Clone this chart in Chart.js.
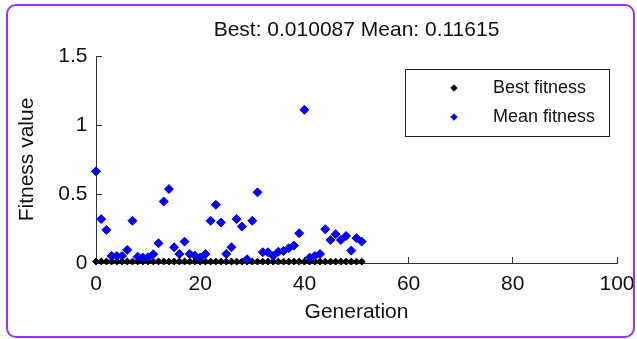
<!DOCTYPE html>
<html>
<head>
<meta charset="utf-8">
<script src="https://cdn.jsdelivr.net/npm/chart.js@4.4.0/dist/chart.umd.min.js"></script>
<style>
  html, body { margin: 0; padding: 0; background: #fff; }
  #wrap { position: relative; width: 637px; height: 339px; }
  #frame {
    position: absolute; left: 6px; top: 4px; width: 625px; height: 330px;
    border: 2px solid #9933ff; border-radius: 10px; pointer-events: none;
  }
  canvas { position: absolute; left: 0; top: 0; }
</style>
</head>
<body>
<div id="wrap">
  <canvas id="gaChart" width="637" height="339"></canvas>
  <div id="frame"></div>
</div>
<script>
// generation numbers
const generations = [0, 1, 2, 3, 4, 5, 6, 7, 8, 9, 10, 11, 12, 13, 14, 15, 16, 17, 18, 19, 20,
  21, 22, 23, 24, 25, 26, 27, 28, 29, 30, 31, 32, 33, 34, 35, 36, 37, 38, 39, 40,
  41, 42, 43, 44, 45, 46, 47, 48, 49, 50, 51];

const bestFitness = [0.011, 0.011, 0.011, 0.011, 0.011, 0.011, 0.011, 0.011, 0.011, 0.011,
  0.011, 0.011, 0.011, 0.011, 0.011, 0.011, 0.011, 0.011, 0.011, 0.011,
  0.0105, 0.0105, 0.0105, 0.0105, 0.0105, 0.0105, 0.0105, 0.0105, 0.0105, 0.0105,
  0.0101, 0.0101, 0.0101, 0.0101, 0.0101, 0.0101, 0.0101, 0.0101, 0.0101, 0.0101,
  0.0101, 0.0101, 0.0101, 0.0101, 0.0101, 0.0101, 0.0101, 0.0101, 0.0101, 0.0101,
  0.010087, 0.010087];

const meanFitness = [0.664, 0.318, 0.24, 0.051, 0.051, 0.051, 0.095, 0.306, 0.046, 0.039,
  0.042, 0.063, 0.143, 0.446, 0.536, 0.114, 0.065, 0.155, 0.065, 0.053,
  0.039, 0.065, 0.306, 0.422, 0.293, 0.065, 0.114, 0.318, 0.264, 0.027,
  0.306, 0.512, 0.078, 0.078, 0.051, 0.082, 0.087, 0.107, 0.126, 0.216,
  1.11, 0.039, 0.051, 0.065, 0.245, 0.167, 0.209, 0.167, 0.196, 0.09,
  0.18, 0.155];

const xTickLabels = ['0', '20', '40', '60', '80', '100'];
const yTickLabels = ['0', '0.5', '1', '1.5'];

const chartTitle = 'Best: 0.010087 Mean: 0.11615';
const FONT = '"Liberation Sans", Arial, Helvetica, sans-serif';

// legend with a box round it, inside the plot (like matlab)
const boxedLegend = {
  id: 'boxedLegend',
  afterDraw(chart) {
    const ctx = chart.ctx;
    const area = chart.chartArea;
    const w = 204, h = 67;
    const left = area.right - 8 - w;
    const top = area.top + 13;
    ctx.save();
    ctx.fillStyle = '#fff';
    ctx.fillRect(left, top, w, h);
    ctx.strokeStyle = '#222';
    ctx.lineWidth = 1;
    ctx.strokeRect(left + 0.5, top + 0.5, w, h);
    ctx.font = '18px ' + FONT;
    ctx.textBaseline = 'middle';
    ctx.textAlign = 'left';
    chart.data.datasets.forEach(function(ds, i) {
      const y = top + 19 + i * 29;
      ctx.fillStyle = ds.pointBackgroundColor;
      ctx.strokeStyle = ds.pointBorderColor;
      Chart.helpers.drawPoint(ctx, { pointStyle: 'rectRot', radius: 3.2, borderWidth: 1, rotation: 0 }, left + 49, y);
      ctx.fillStyle = '#111';
      ctx.fillText(ds.label, left + 88, y);
    });
    ctx.restore();
  }
};

const ctx = document.getElementById('gaChart').getContext('2d');
new Chart(ctx, {
  type: 'scatter',
  data: {
    datasets: [{
      label: 'Best fitness',
      data: generations.map((g, i) => ({ x: g, y: bestFitness[i] })),
      pointStyle: 'rectRot',
      pointRadius: 3.4,
      pointBackgroundColor: '#000000',
      pointBorderColor: '#000000',
      pointBorderWidth: 1,
      order: 1,
      clip: false
    }, {
      label: 'Mean fitness',
      data: generations.map((g, i) => ({ x: g, y: meanFitness[i] })),
      pointStyle: 'rectRot',
      pointRadius: 4.5,
      pointBackgroundColor: '#0000ff',
      pointBorderColor: '#0000ff',
      pointBorderWidth: 1,
      order: 0,
      clip: false
    }]
  },
  options: {
    responsive: false,
    animation: false,
    devicePixelRatio: 1,
    layout: { padding: { left: 0, right: 20, top: 0, bottom: 0 } },
    plugins: {
      legend: { display: false },
      tooltip: { enabled: false },
      title: {
        display: true,
        text: chartTitle,
        fullSize: false,
        color: '#111',
        font: { family: FONT, size: 21, weight: 'normal' },
        padding: { top: 17.4, bottom: 13.4 }
      }
    },
    scales: {
      x: {
        type: 'linear',
        min: 0,
        max: 100,
        afterFit: function(scale) {
          scale.height = 76;
          // tick padding is only meant to push labels down, not in from the sides
          scale.paddingLeft = 0;
          scale.paddingRight = 0;
        },
        ticks: {
          stepSize: 20,
          maxRotation: 0,
          color: '#111',
          padding: 14.4,
          font: { family: FONT, size: 21 },
          callback: function(v) { return xTickLabels[Math.round(v / 20)]; }
        },
        grid: { drawOnChartArea: false, drawTicks: true, tickLength: -6, color: '#333' },
        border: { display: true, color: '#333', width: 1 },
        title: {
          display: true,
          text: 'Generation',
          color: '#111',
          font: { family: FONT, size: 21 },
          padding: { top: 0, bottom: 14.4 }
        }
      },
      y: {
        min: 0,
        max: 1.5,
        afterFit: function(scale) { scale.width = 96; },
        ticks: {
          stepSize: 0.5,
          color: '#111',
          padding: 14.5,
          font: { family: FONT, size: 21 },
          callback: function(v) { return yTickLabels[Math.round(v / 0.5)]; }
        },
        grid: { drawOnChartArea: false, drawTicks: true, tickLength: -6, color: '#333' },
        border: { display: true, color: '#333', width: 1 },
        title: {
          display: true,
          text: 'Fitness value',
          color: '#111',
          font: { family: FONT, size: 21 },
          padding: { top: 14.4, bottom: 0 }
        }
      }
    }
  },
  plugins: [boxedLegend]
});
</script>
</body>
</html>
